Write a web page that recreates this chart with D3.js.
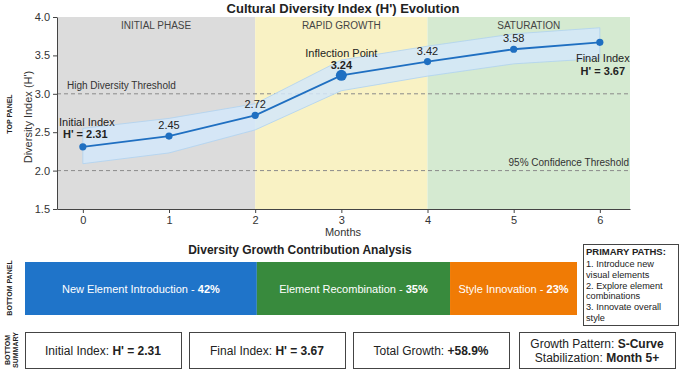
<!DOCTYPE html>
<html>
<head>
<meta charset="utf-8">
<script src="https://cdn.jsdelivr.net/npm/d3@7"></script>
<style>
  body { margin: 0; background: #fff; }
  svg { font-family: "Liberation Sans", Arial, sans-serif; }
</style>
</head>
<body>
<div id="chart"></div>
<script>
// data
const months = [0, 1, 2, 3, 4, 5, 6];
const diversity = [2.31, 2.45, 2.72, 3.24, 3.42, 3.58, 3.67];
const bandLower = [2.09, 2.23, 2.53, 3.04, 3.23, 3.39, 3.46];
const bandUpper = [2.55, 2.68, 2.87, 3.44, 3.62, 3.78, 3.86];
const phaseNames = ["INITIAL PHASE", "RAPID GROWTH", "SATURATION"];
const phaseStart = [-0.3, 2, 4];
const phaseEnd = [2, 4, 6.35];
const phaseColors = ["#dcdcdc", "#f9f2c4", "#d5ead1"];
const thresholds = [3.0, 2.0];
const thresholdLabels = ["High Diversity Threshold", "95% Confidence Threshold"];
const yTicks = [1.5, 2.0, 2.5, 3.0, 3.5, 4.0];

const contribNames = ["New Element Introduction", "Element Recombination", "Style Innovation"];
const contribValues = [42, 35, 23];
const contribColors = ["#1f74c9", "#388a3d", "#f07b05"];

const pathItems = [
  ["1. Introduce new", "visual elements"],
  ["2. Explore element", "combinations"],
  ["3. Innovate overall", "style"]
];

const summaryItems = [
  [["Initial Index: ", "H' = 2.31"]],
  [["Final Index: ", "H' = 3.67"]],
  [["Total Growth: ", "+58.9%"]],
  [["Growth Pattern: ", "S-Curve"], ["Stabilization: ", "Month 5+"]]
];

const W = 685, H = 373;
const svg = d3.select("#chart").append("svg")
  .attr("width", W).attr("height", H);

// ---- top panel ----
const x = d3.scaleLinear().domain([-0.3, 6.35]).range([57, 630]);
const y = d3.scaleLinear().domain([1.5, 4.0]).range([209, 17]);

svg.append("text").attr("x", 343).attr("y", 13)
  .attr("text-anchor", "middle").attr("font-size", 13).attr("font-weight", "bold")
  .attr("fill", "#222").text("Cultural Diversity Index (H') Evolution");

const topPanel = svg.append("g");
topPanel.selectAll("rect.phase").data(phaseNames).join("rect")
  .attr("class", "phase")
  .attr("x", (d, i) => x(phaseStart[i]))
  .attr("y", y(4.0))
  .attr("width", (d, i) => x(phaseEnd[i]) - x(phaseStart[i]))
  .attr("height", y(1.5) - y(4.0))
  .attr("fill", (d, i) => phaseColors[i]);

topPanel.selectAll("text.phase").data(phaseNames).join("text")
  .attr("class", "phase")
  .attr("x", (d, i) => (x(phaseStart[i]) + x(phaseEnd[i])) / 2)
  .attr("y", 29)
  .attr("text-anchor", "middle").attr("font-size", 10).attr("fill", "#444")
  .text(d => d);

// thresholds
topPanel.selectAll("line.thr").data(thresholds).join("line")
  .attr("class", "thr")
  .attr("x1", x(-0.3)).attr("x2", x(6.35))
  .attr("y1", d => y(d)).attr("y2", d => y(d))
  .attr("stroke", "#8a8a8a").attr("stroke-width", 1).attr("stroke-dasharray", "4,3");
topPanel.append("text").attr("x", 67).attr("y", y(3.0) - 5)
  .attr("font-size", 10).attr("fill", "#333").text(thresholdLabels[0]);
topPanel.append("text").attr("x", 629).attr("y", y(2.0) - 5)
  .attr("text-anchor", "end").attr("font-size", 10).attr("fill", "#333").text(thresholdLabels[1]);

// band
const area = d3.area()
  .x((d, i) => x(months[i]))
  .y0((d, i) => y(bandLower[i]))
  .y1((d, i) => y(bandUpper[i]));
topPanel.append("path").datum(months).attr("d", area)
  .attr("fill", "#d3e8fa").attr("fill-opacity", 0.85)
  .attr("stroke", "#aed2f0").attr("stroke-width", 0.8);

// line
const line = d3.line().x((d, i) => x(months[i])).y(d => y(d));
topPanel.append("path").datum(diversity).attr("d", line)
  .attr("fill", "none").attr("stroke", "#1f6fc1").attr("stroke-width", 1.8);
topPanel.selectAll("circle").data(diversity).join("circle")
  .attr("cx", (d, i) => x(months[i])).attr("cy", d => y(d))
  .attr("r", (d, i) => i === 3 ? 5.5 : 3.6)
  .attr("fill", "#1f6fc1");

// axes
const xAxis = topPanel.append("g").attr("transform", `translate(0,${y(1.5)})`)
  .call(d3.axisBottom(x).tickValues(months).tickFormat(d3.format("d")).tickSize(4).tickSizeOuter(0));
const yAxis = topPanel.append("g").attr("transform", `translate(${x(-0.3)},0)`)
  .call(d3.axisLeft(y).tickValues(yTicks).tickFormat(d3.format(".1f")).tickSize(4).tickSizeOuter(0));
[xAxis, yAxis].forEach(a => {
  a.selectAll("text").attr("font-size", 11).attr("fill", "#333").attr("font-family", "Liberation Sans, Arial, sans-serif");
  a.selectAll("line, path").attr("stroke", "#444");
});
topPanel.append("text").attr("x", 343).attr("y", 236)
  .attr("text-anchor", "middle").attr("font-size", 11).attr("fill", "#333").text("Months");
topPanel.append("text").attr("transform", `translate(32,117) rotate(-90)`)
  .attr("text-anchor", "middle").attr("font-size", 11).attr("fill", "#333").text("Diversity Index (H')");

// value labels
[1, 2, 4, 5].forEach(i => {
  topPanel.append("text").attr("x", x(months[i])).attr("y", y(diversity[i]) - 7)
    .attr("text-anchor", "middle").attr("font-size", 11).attr("fill", "#222")
    .text(diversity[i].toFixed(2));
});
// annotations
topPanel.append("text").attr("x", 59).attr("y", 126)
  .attr("font-size", 11).attr("fill", "#222").text("Initial Index");
topPanel.append("text").attr("x", 63).attr("y", 138)
  .attr("font-size", 11).attr("font-weight", "bold").attr("fill", "#222")
  .text("H' = " + diversity[0].toFixed(2));
topPanel.append("text").attr("x", x(3)).attr("y", 57)
  .attr("text-anchor", "middle").attr("font-size", 11).attr("fill", "#222").text("Inflection Point");
topPanel.append("text").attr("x", x(3)).attr("y", 69)
  .attr("text-anchor", "middle").attr("font-size", 11).attr("font-weight", "bold").attr("fill", "#222")
  .text(diversity[3].toFixed(2));
topPanel.append("text").attr("x", x(6) + 3).attr("y", 62)
  .attr("text-anchor", "middle").attr("font-size", 11).attr("fill", "#222").text("Final Index");
topPanel.append("text").attr("x", x(6) + 3).attr("y", 75)
  .attr("text-anchor", "middle").attr("font-size", 11).attr("font-weight", "bold").attr("fill", "#222")
  .text("H' = " + diversity[6].toFixed(2));

// side panel labels
function sideLabel(lines, cx, cy) {
  const t = svg.append("text").attr("transform", `translate(${cx},${cy}) rotate(-90)`)
    .attr("text-anchor", "middle").attr("font-size", 7).attr("font-weight", "bold").attr("fill", "#222");
  lines.forEach((l, i) => t.append("tspan").attr("x", 0).attr("dy", i === 0 ? 0 : 8).text(l));
}
sideLabel(["TOP PANEL"], 12, 114);
sideLabel(["BOTTOM PANEL"], 12, 288);
sideLabel(["BOTTOM", "SUMMARY"], 10, 350);

// ---- bottom panel: contribution bar ----
svg.append("text").attr("x", 300).attr("y", 254)
  .attr("text-anchor", "middle").attr("font-size", 12).attr("font-weight", "bold")
  .attr("fill", "#222").text("Diversity Growth Contribution Analysis");

const cum = contribValues.map((v, i) => d3.sum(contribValues.slice(0, i)));
const xb = d3.scaleLinear().domain([0, d3.sum(contribValues)]).range([25, 577]);
const bar = svg.append("g");
bar.selectAll("rect").data(contribValues).join("rect")
  .attr("x", (d, i) => xb(cum[i])).attr("y", 262)
  .attr("width", d => xb(d) - xb(0)).attr("height", 53)
  .attr("fill", (d, i) => contribColors[i]);
bar.selectAll("text").data(contribValues).join("text")
  .attr("x", (d, i) => xb(cum[i] + d / 2)).attr("y", 292.5)
  .attr("text-anchor", "middle").attr("font-size", 11).attr("fill", "#fff")
  .each(function (d, i) {
    const t = d3.select(this);
    t.append("tspan").text(contribNames[i] + " - ");
    t.append("tspan").attr("font-weight", "bold").text(d + "%");
  });

// primary paths box
svg.append("rect").attr("x", 583.5).attr("y", 244.5).attr("width", 95).attr("height", 81)
  .attr("fill", "#fff").attr("stroke", "#444").attr("stroke-width", 1);
svg.append("text").attr("x", 586).attr("y", 255)
  .attr("font-size", 9.5).attr("font-weight", "bold").attr("fill", "#222").text("PRIMARY PATHS:");
pathItems.forEach((item, i) => {
  item.forEach((l, j) => {
    svg.append("text").attr("x", 586).attr("y", 267 + i * 21.5 + j * 10.6)
      .attr("font-size", 9.2).attr("fill", "#222").text(l);
  });
});

// summary boxes
const boxX = [25, 189, 353, 519];
const boxW = 156;
summaryItems.forEach((lines, i) => {
  const g = svg.append("g");
  g.append("rect").attr("x", boxX[i] + 0.5).attr("y", 332.5).attr("width", boxW).attr("height", 36)
    .attr("fill", "#fff").attr("stroke", "#444").attr("stroke-width", 1);
  const n = lines.length;
  lines.forEach((pair, j) => {
    const t = g.append("text").attr("x", boxX[i] + boxW / 2)
      .attr("y", 355 + (j - (n - 1) / 2) * 14)
      .attr("text-anchor", "middle").attr("font-size", 12).attr("fill", "#222");
    t.append("tspan").text(pair[0]);
    t.append("tspan").attr("font-weight", "bold").text(pair[1]);
  });
});
</script>
</body>
</html>
